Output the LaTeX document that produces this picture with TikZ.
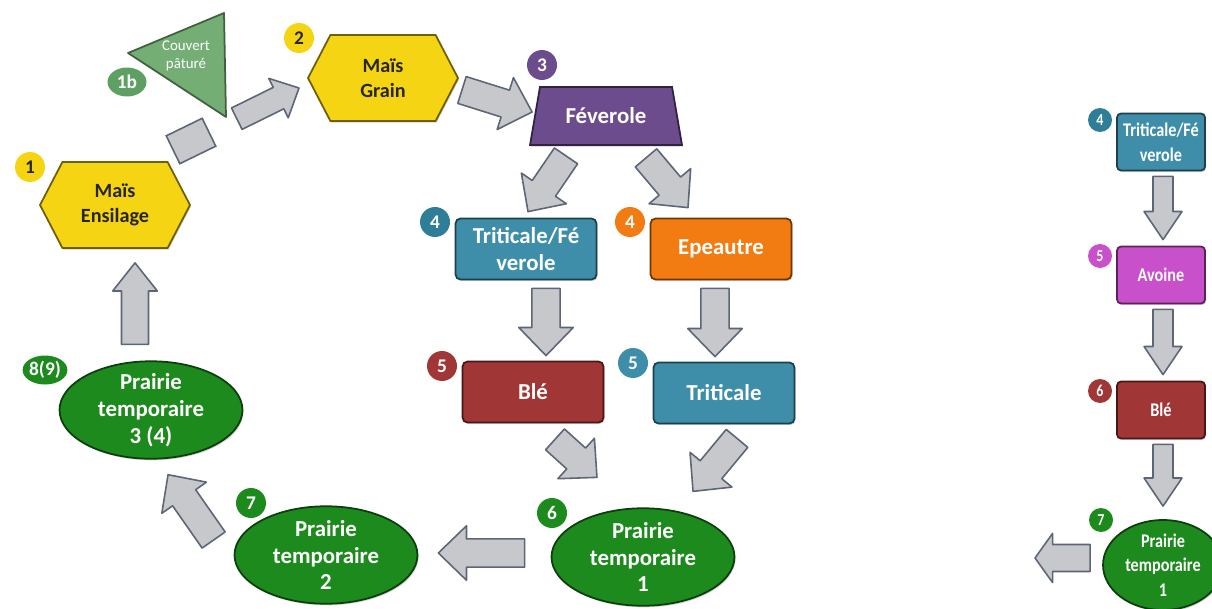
\documentclass[tikz,border=0pt]{standalone}
\usepackage{fontspec}
\setmainfont{Carlito}
\newfontfamily\narrowfont[FakeStretch=0.84]{Carlito}
\usetikzlibrary{calc,shapes.geometric,shapes.symbols,shadows}
\definecolor{maisColor}{HTML}{F5D414}
\definecolor{covColor}{HTML}{74AE74}
\definecolor{covBadge}{HTML}{5E9F63}
\definecolor{fevColor}{HTML}{6D4C8E}
\definecolor{tealColor}{HTML}{3E8EAA}
\definecolor{tealBadge}{HTML}{2F7E98}
\definecolor{orangeColor}{HTML}{F27B12}
\definecolor{redColor}{HTML}{A03636}
\definecolor{greenColor}{HTML}{1D8A1D}
\definecolor{magColor}{HTML}{C850CB}
\definecolor{arrowColor}{HTML}{C7C8CB}
\definecolor{arrowLine}{HTML}{5C6677}
\tikzset{
	flow shaft/.store in=\FlowShaft,
	flow shaft=8pt,
	flow head/.store in=\FlowHead,
	flow head=15.5pt,
	flow tip/.store in=\FlowTip,
	flow tip=16pt,
	narrow flow/.style={flow shaft=5.7pt, flow head=10.8pt, flow tip=16pt},
	pics/flow/.style={code={
			\filldraw[fill=arrowColor, draw=arrowLine, line width=0.9pt, line join=round]
			(0pt,-\FlowShaft) -- ({#1-\FlowTip},-\FlowShaft) -- ({#1-\FlowTip},-\FlowHead)
			-- (#1,0pt) -- ({#1-\FlowTip},\FlowHead) -- ({#1-\FlowTip},\FlowShaft)
			-- (0pt,\FlowShaft) -- cycle;}},
	shade/.style={drop shadow={opacity=0.35, shadow xshift=0.6pt, shadow yshift=-0.9pt}},
	hexbox/.style={signal, signal to=east and west, signal pointer angle=125, shade,
		fill=maisColor, draw=maisColor!45!black, line width=1pt, text=black!85,
		align=center, font=\bfseries\fontsize{11.5}{14.5}\selectfont,
		minimum width=3cm, minimum height=1.72cm, inner sep=1pt},
	fevbox/.style={trapezium, trapezium left angle=76, trapezium right angle=76,
		trapezium stretches=true, shade, fill=fevColor, draw=fevColor!45!black, line width=1pt,
		text=white, font=\bfseries\fontsize{13}{15}\selectfont,
		minimum width=3.04cm, minimum height=1.16cm},
	cropbox/.style={rectangle, rounded corners=0.1cm, shade, fill=#1, draw=#1!45!black,
		line width=1pt, text=white, align=center, font=\bfseries\fontsize{13}{15.5}\selectfont,
		minimum width=2.82cm, minimum height=1.22cm, inner sep=1pt},
	smallbox/.style={cropbox=#1, rounded corners=0.08cm, minimum width=1.76cm,
		minimum height=1.14cm, font=\narrowfont\bfseries\fontsize{11}{14}\selectfont},
	prairie/.style={ellipse, shade, fill=greenColor, draw=greenColor!45!black, line width=1pt,
		text=white, align=center, font=\bfseries\fontsize{13}{15.3}\selectfont,
		minimum width=3.66cm, minimum height=1.95cm, inner xsep=0pt, inner ysep=-7pt},
	smallprairie/.style={prairie, minimum width=2.4cm, minimum height=1.8cm, inner ysep=-6pt,
		font=\narrowfont\bfseries\fontsize{11}{14}\selectfont},
	badge/.style={circle, fill=#1, text=white, inner sep=0pt, minimum size=0.6cm,
		font=\bfseries\fontsize{11}{12}\selectfont},
	smallbadge/.style={badge=#1, minimum size=0.48cm, font=\narrowfont\bfseries\fontsize{9.5}{10}\selectfont},
	flowbar/.style={rectangle, fill=arrowColor, draw=arrowLine, line width=0.9pt,
		minimum width=0.8cm, minimum height=0.62cm, inner sep=0pt}
}
\newcommand{\flow}[3][]{%
	\path let \p1=#2, \p2=#3, \n1={atan2(\y2-\y1,\x2-\x1)}, \n2={veclen(\x2-\x1,\y2-\y1)} in
	(\p1) pic[rotate=\n1,#1] {flow=\n2};}

\begin{document}
\begin{tikzpicture}[x=0.02cm, y=-0.02cm, semithick]
	\useasboundingbox (0,0) rectangle (1212,608);
	
	% main rotation
	\node[hexbox] (ens) at (115,205) {Maïs\\Ensilage};
	\node[hexbox] (grain) at (383,78) {Maïs\\Grain};
	\filldraw[fill=covColor, draw=covColor!55!black, line width=1pt, line join=round] (128,53) -- (224,13) -- (226,117) -- cycle;
	\node[text=white, align=center, font=\fontsize{8.5}{10}\selectfont] (cov) at (186,56) {Couvert\\pâturé};
	\node[fevbox] (fev) at (606,116) {Féverole};
	\node[cropbox=tealColor] (tf) at (526,249) {Triticale/Fé\\verole};
	\node[cropbox=orangeColor] (ep) at (721,249) {Epeautre};
	\node[cropbox=redColor] (ble) at (533,392) {Blé};
	\node[cropbox=tealColor] (tri) at (724,393) {Triticale};
	\node[prairie] (p1) at (643,557) {Prairie\\temporaire\\1};
	\node[prairie] (p2) at (326,555) {Prairie\\temporaire\\2};
	\node[prairie] (p3) at (151,410) {Prairie\\temporaire\\3 (4)};
	
	\node[badge=maisColor, text=black!85] (n1) at (30,167) {1};
	\node[badge=covBadge, ellipse, minimum width=0.78cm, minimum height=0.58cm] (n1b) at (127,82) {1b};
	\node[badge=maisColor, text=black!85] (n2) at (299,38) {2};
	\node[badge=fevColor] (n3) at (542,65) {3};
	\node[badge=tealBadge] (n4a) at (435,222) {4};
	\node[badge=orangeColor] (n4b) at (630,222) {4};
	\node[badge=redColor] (n5a) at (442,366) {5};
	\node[badge=tealColor] (n5b) at (633,363) {5};
	\node[badge=greenColor] (n6) at (552,513) {6};
	\node[badge=greenColor] (n7) at (251,503) {7};
	\node[badge=greenColor, ellipse, minimum width=0.8cm, minimum height=0.58cm] (n8) at (45,370) {8(9)};
	
	\node[flowbar, rotate=26] (cut) at (191,141) {};
	\flow[flow shaft=6.8pt, flow head=12.5pt, flow tip=13pt]{($(cut)!2.45!(cut.east)$)}{($(grain.west)+(-8,10)$)}
	\flow{($(grain.east)+(3,12)$)}{($(fev.west)+(-2,-4)$)}
	\flow{($(fev.south)+(-40,10)$)}{($(tf.north)+(2,-6)$)}
	\flow{($(fev.south)+(40,12)$)}{($(ep.north)+(-33,-10)$)}
	\flow{($(tf.south)+(20,8)$)}{($(ble.north)+(13,-5)$)}
	\flow{($(ep.south)+(-6,8)$)}{($(tri.north)+(-9,-5)$)}
	\flow{($(ble.south)+(22,16)$)}{($(p1.north)+(-46,-30)$)}
	\flow{($(tri.south)+(13,14)$)}{($(p1.north)+(50,-16)$)}
	\flow{($(p1.west)+(-26,-4)$)}{($(p2.east)+(20,-2)$)}
	\flow{($(p2.west)+(-20,-15)$)}{($(p3.south)+(17,15)$)}
	\flow[flow shaft=7.7pt, flow head=12.7pt]{($(p3.north)+(-16,-16)$)}{($(ens.south)+(20,14)$)}
	
	% variant
	\node[smallbox=tealColor] (rtf) at (1161,142) {Triticale/Fé\\verole};
	\node[smallbox=magColor] (rav) at (1161,275) {Avoine};
	\node[smallbox=redColor] (rble) at (1161,410) {Blé};
	\node[smallprairie] (rp1) at (1163,565) {Prairie\\temporaire\\1};
	\coordinate (rout) at (1035,558);
	
	\node[smallbadge=tealBadge] (r4) at (1100,120) {4};
	\node[smallbadge=magColor] (r5) at (1100,256) {5};
	\node[smallbadge=redColor] (r6) at (1100,391) {6};
	\node[smallbadge=greenColor] (r7) at (1101,520) {7};
	
	\flow[narrow flow]{($(rtf.south)+(2,5)$)}{($(rav.north)+(2,-6)$)}
	\flow[narrow flow]{($(rav.south)+(2,5)$)}{($(rble.north)+(2,-6)$)}
	\flow[narrow flow]{($(rble.south)+(2,5)$)}{($(rp1.north)+(0,-13)$)}
	\flow[flow shaft=7.7pt, flow head=14pt, flow tip=10pt]{($(rp1.west)+(-12,-7)$)}{(rout)}
\end{tikzpicture}
\end{document}
